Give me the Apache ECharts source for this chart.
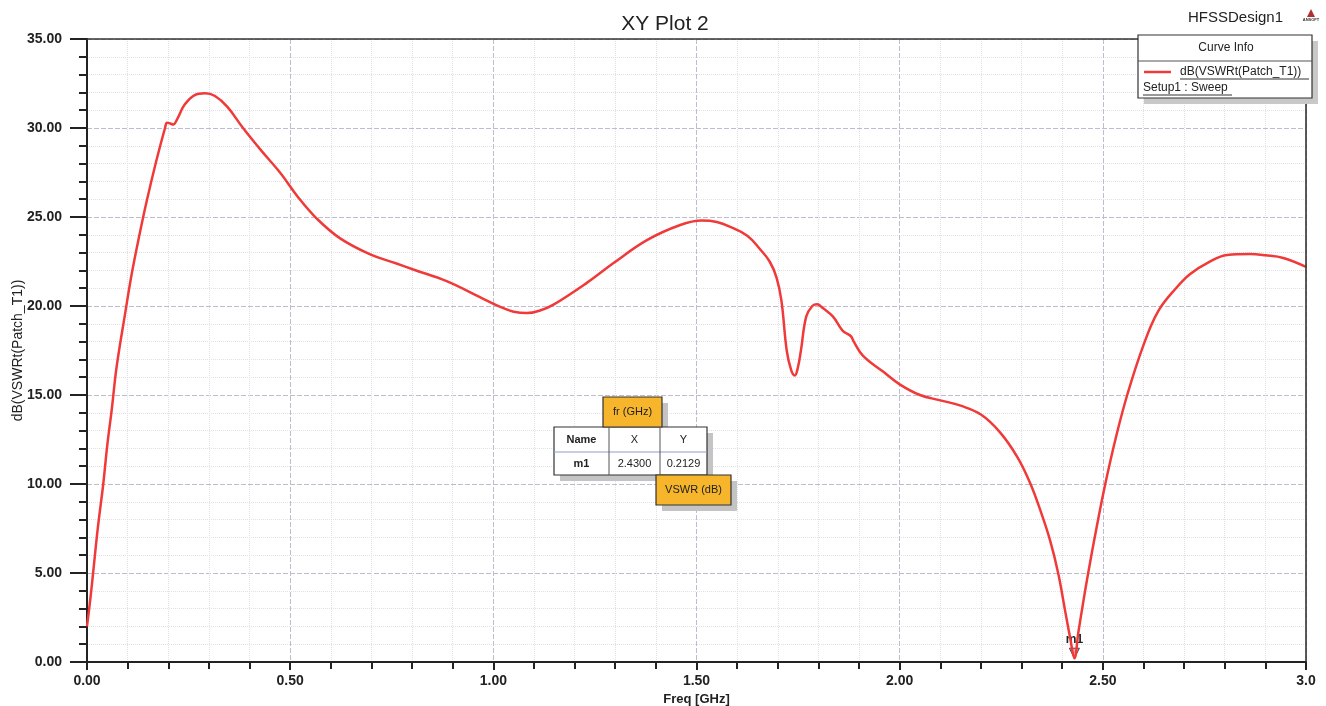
<!DOCTYPE html>
<html>
<head>
<meta charset="utf-8">
<title>XY Plot 2</title>
<script src="https://cdn.jsdelivr.net/npm/echarts@6/dist/echarts.min.js"></script>
<style>
  html, body { margin: 0; padding: 0; background: #ffffff; }
  #chart { width: 1326px; height: 706px; }
</style>
</head>
<body>
<div id="chart"></div>
<script>
// Swept frequency (GHz) and dB(VSWRt(Patch_T1)) from Setup1 : Sweep
const freqGHz = [
  0.000, 0.008, 0.015, 0.027, 0.040, 0.050, 0.061, 0.073, 0.094, 0.110,
  0.130, 0.147, 0.170, 0.192, 0.197, 0.205, 0.212, 0.222, 0.240, 0.265,
  0.290, 0.315, 0.345, 0.384, 0.430, 0.475, 0.520, 0.566, 0.623, 0.697,
  0.760, 0.803, 0.885, 0.967, 1.017, 1.050, 1.083, 1.115, 1.147, 1.230,
  1.295, 1.378, 1.460, 1.513, 1.550, 1.583, 1.625, 1.656, 1.680, 1.697,
  1.709, 1.722, 1.733, 1.742, 1.750, 1.757, 1.770, 1.785, 1.797, 1.810,
  1.836, 1.860, 1.880, 1.887, 1.910, 1.960, 2.000, 2.050, 2.100, 2.150,
  2.200, 2.247, 2.290, 2.321, 2.345, 2.370, 2.390, 2.407, 2.420, 2.430,
  2.440, 2.452, 2.464, 2.485, 2.506, 2.532, 2.560, 2.600, 2.636, 2.680,
  2.715, 2.760, 2.806, 2.862, 2.900, 2.944, 3.000
];
const vswrDb = [
  2.0, 3.5, 5.0, 7.6, 10.0, 12.2, 14.2, 16.6, 19.6, 21.8,
  24.1, 25.9, 28.1, 30.0, 30.3, 30.25, 30.2, 30.5, 31.3, 31.85,
  31.95, 31.8, 31.2, 30.0, 28.7, 27.5, 26.1, 24.9, 23.8, 22.9,
  22.4, 22.05, 21.4, 20.5, 19.95, 19.68, 19.6, 19.75, 20.06, 21.3,
  22.4, 23.7, 24.55, 24.8, 24.72, 24.45, 23.95, 23.2, 22.5, 21.6,
  20.3, 17.5, 16.4, 16.1, 16.6, 17.5, 19.4, 20.0, 20.1, 19.9,
  19.4, 18.6, 18.3, 18.0, 17.2, 16.3, 15.6, 15.0, 14.7, 14.4,
  13.9, 12.9, 11.5, 10.06, 8.6, 6.85, 5.0, 2.9, 1.3, 0.2129,
  1.7, 3.4, 5.0, 7.6, 10.0, 12.6, 15.0, 17.8, 19.7, 21.0,
  21.8, 22.45, 22.87, 22.92, 22.85, 22.7, 22.2
];

// Marker m1
const markerName = 'm1';
const markerX = 2.43;
const markerY = 0.2129;

// Axis tick labels
const xTickLabels = ['0.00', '0.50', '1.00', '1.50', '2.00', '2.50', '3.0'];
const yTickLabels = ['0.00', '5.00', '10.00', '15.00', '20.00', '25.00', '30.00', '35.00'];

const seriesName = 'dB(VSWRt(Patch_T1))';
const sweepName = 'Setup1 : Sweep';

const curve = freqGHz.map((f, i) => [f, vswrDb[i]]);

const chart = echarts.init(document.getElementById('chart'), null, { renderer: 'canvas' });

const FONT = '"Liberation Sans", Arial, sans-serif';
const RED = '#f03a3a';
const TAG = '#f6b52a';

// Plot frame in pixels
const L = 87, R = 1306, T = 39, B = 662;

function tag(x, y, w, h, text) {
  return [
    { type: 'rect', shape: { x: x + 6, y: y + 6, width: w, height: h }, style: { fill: '#c4c4c4' }, z: 50 },
    { type: 'rect', shape: { x: x, y: y, width: w, height: h }, style: { fill: TAG, stroke: '#333', lineWidth: 1.2 }, z: 51 },
    { type: 'text', x: x + w / 2, y: y + h / 2, style: { text: text, font: '11px ' + FONT, fill: '#222', align: 'center', verticalAlign: 'middle' }, z: 52 }
  ];
}

const tbl = { x: 554, y: 427, w: 153, h: 48, c1: 609, c2: 660, r: 452 };

const graphics = [
  // header texts
  { type: 'text', x: 1283, y: 18, style: { text: 'HFSSDesign1', font: '15px ' + FONT, fill: '#222', align: 'right', verticalAlign: 'middle' }, z: 60 },
  { type: 'polygon', shape: { points: [[1311, 9], [1307, 17], [1315, 17]] }, style: { fill: '#b03030' }, z: 60 },
  { type: 'text', x: 1311, y: 20, style: { text: 'ANSOFT', font: 'bold 4px ' + FONT, fill: '#333', align: 'center', verticalAlign: 'middle' }, z: 60 },

  // curve info box
  { type: 'rect', shape: { x: 1144, y: 41, width: 174, height: 63 }, style: { fill: '#c8c8c8' }, z: 50 },
  { type: 'rect', shape: { x: 1138, y: 35, width: 174, height: 63 }, style: { fill: '#ffffff', stroke: '#333', lineWidth: 1.2 }, z: 51 },
  { type: 'text', x: 1226, y: 48, style: { text: 'Curve Info', font: '12px ' + FONT, fill: '#222', align: 'center', verticalAlign: 'middle' }, z: 52 },
  { type: 'line', shape: { x1: 1138, y1: 61, x2: 1312, y2: 61 }, style: { stroke: '#555', lineWidth: 1 }, z: 52 },
  { type: 'line', shape: { x1: 1144, y1: 72, x2: 1171, y2: 72 }, style: { stroke: RED, lineWidth: 2.5 }, z: 52 },
  { type: 'text', x: 1180, y: 72, style: { text: seriesName, font: '12px ' + FONT, fill: '#222', align: 'left', verticalAlign: 'middle' }, z: 52 },
  { type: 'line', shape: { x1: 1180, y1: 79, x2: 1309, y2: 79 }, style: { stroke: '#333', lineWidth: 1 }, z: 52 },
  { type: 'text', x: 1143, y: 88, style: { text: sweepName, font: '12px ' + FONT, fill: '#222', align: 'left', verticalAlign: 'middle' }, z: 52 },
  { type: 'line', shape: { x1: 1143, y1: 95, x2: 1232, y2: 95 }, style: { stroke: '#333', lineWidth: 1 }, z: 52 },

  // marker table
  { type: 'rect', shape: { x: tbl.x + 6, y: tbl.y + 6, width: tbl.w, height: tbl.h }, style: { fill: '#c4c4c4' }, z: 50 },
  { type: 'rect', shape: { x: tbl.x, y: tbl.y, width: tbl.w, height: tbl.h }, style: { fill: '#ffffff', stroke: '#333', lineWidth: 1.2 }, z: 51 },
  { type: 'line', shape: { x1: tbl.x, y1: tbl.r, x2: tbl.x + tbl.w, y2: tbl.r }, style: { stroke: '#8aa0c0', lineWidth: 1 }, z: 52 },
  { type: 'line', shape: { x1: tbl.c1, y1: tbl.y, x2: tbl.c1, y2: tbl.y + tbl.h }, style: { stroke: '#555', lineWidth: 1 }, z: 52 },
  { type: 'line', shape: { x1: tbl.c2, y1: tbl.y, x2: tbl.c2, y2: tbl.y + tbl.h }, style: { stroke: '#555', lineWidth: 1 }, z: 52 },
  { type: 'text', x: (tbl.x + tbl.c1) / 2, y: 440, style: { text: 'Name', font: 'bold 11px ' + FONT, fill: '#222', align: 'center', verticalAlign: 'middle' }, z: 52 },
  { type: 'text', x: (tbl.c1 + tbl.c2) / 2, y: 440, style: { text: 'X', font: '11px ' + FONT, fill: '#222', align: 'center', verticalAlign: 'middle' }, z: 52 },
  { type: 'text', x: (tbl.c2 + tbl.x + tbl.w) / 2, y: 440, style: { text: 'Y', font: '11px ' + FONT, fill: '#222', align: 'center', verticalAlign: 'middle' }, z: 52 },
  { type: 'text', x: (tbl.x + tbl.c1) / 2, y: 464, style: { text: markerName, font: 'bold 11px ' + FONT, fill: '#222', align: 'center', verticalAlign: 'middle' }, z: 52 },
  { type: 'text', x: (tbl.c1 + tbl.c2) / 2, y: 464, style: { text: markerX.toFixed(4), font: '11px ' + FONT, fill: '#222', align: 'center', verticalAlign: 'middle' }, z: 52 },
  { type: 'text', x: (tbl.c2 + tbl.x + tbl.w) / 2, y: 464, style: { text: markerY.toFixed(4), font: '11px ' + FONT, fill: '#222', align: 'center', verticalAlign: 'middle' }, z: 52 }
]
  .concat(tag(603, 397, 59, 30, 'fr (GHz)'))
  .concat(tag(656, 475, 75, 30, 'VSWR (dB)'))
  .concat([
    // plot frame top and right edges
    { type: 'line', shape: { x1: L, y1: T, x2: R, y2: T }, style: { stroke: '#333', lineWidth: 1.6 }, z: 40 },
    { type: 'line', shape: { x1: R, y1: T, x2: R, y2: B }, style: { stroke: '#333', lineWidth: 1.6 }, z: 40 }
  ]);

const option = {
  backgroundColor: '#ffffff',
  animation: false,
  title: {
    text: 'XY Plot 2',
    left: 660,
    top: 9,
    textAlign: 'center',
    textStyle: { fontFamily: FONT, fontSize: 21, fontWeight: 'normal', color: '#222' }
  },
  grid: { left: L, right: 1326 - R, top: T, bottom: 706 - B, outerBoundsMode: 'none', containLabel: false },
  xAxis: {
    type: 'value',
    min: 0, max: 3, interval: 0.5,
    name: 'Freq [GHz]',
    nameLocation: 'middle',
    nameGap: 31,
    nameMoveOverlap: false,
    nameTextStyle: { fontFamily: FONT, fontSize: 13, fontWeight: 'bold', color: '#222' },
    axisLine: { show: true, lineStyle: { color: '#222', width: 2 } },
    axisTick: { show: true, length: 8, lineStyle: { color: '#222', width: 2 } },
    minorTick: { show: true, splitNumber: 5, length: 7, lineStyle: { color: '#222', width: 2 } },
    axisLabel: {
      margin: 12,
      fontFamily: FONT, fontSize: 14, fontWeight: 'bold', color: '#222',
      formatter: (v) => xTickLabels[Math.round(v / 0.5)]
    },
    splitLine: { show: true, lineStyle: { color: '#bdbdcf', width: 1, type: [5, 2] } },
    minorSplitLine: { show: true, lineStyle: { color: '#e0e0e8', width: 1, type: 'dotted' } }
  },
  yAxis: {
    type: 'value',
    min: 0, max: 35, interval: 5,
    name: seriesName,
    nameLocation: 'middle',
    nameGap: 62,
    nameMoveOverlap: false,
    nameTextStyle: { fontFamily: FONT, fontSize: 14, color: '#222' },
    axisLine: { show: true, lineStyle: { color: '#222', width: 2 } },
    axisTick: { show: true, length: 17, lineStyle: { color: '#222', width: 2 } },
    minorTick: { show: true, splitNumber: 5, length: 8, lineStyle: { color: '#222', width: 2 } },
    axisLabel: {
      margin: 25,
      fontFamily: FONT, fontSize: 14, fontWeight: 'bold', color: '#222',
      formatter: (v) => yTickLabels[Math.round(v / 5)]
    },
    splitLine: { show: true, lineStyle: { color: '#bdbdcf', width: 1, type: [5, 2] } },
    minorSplitLine: { show: true, lineStyle: { color: '#e0e0e8', width: 1, type: 'dotted' } }
  },
  series: [{
    name: seriesName,
    type: 'line',
    data: curve,
    smooth: 0.4,
    showSymbol: false,
    lineStyle: { color: RED, width: 2.5 },
    itemStyle: { color: RED },
    z: 10,
    markPoint: {
      data: [{ name: markerName, coord: [markerX, markerY] }],
      symbol: 'triangle',
      symbolRotate: 180,
      symbolSize: [10, 10],
      symbolOffset: [0, -5],
      itemStyle: { color: '#f7a0a0', borderColor: '#444', borderWidth: 1 },
      label: {
        show: true,
        position: 'top',
        distance: 2,
        formatter: markerName,
        fontFamily: FONT, fontSize: 12, fontWeight: 'bold', color: '#222'
      }
    }
  }],
  graphic: graphics
};

chart.setOption(option);
</script>
</body>
</html>
